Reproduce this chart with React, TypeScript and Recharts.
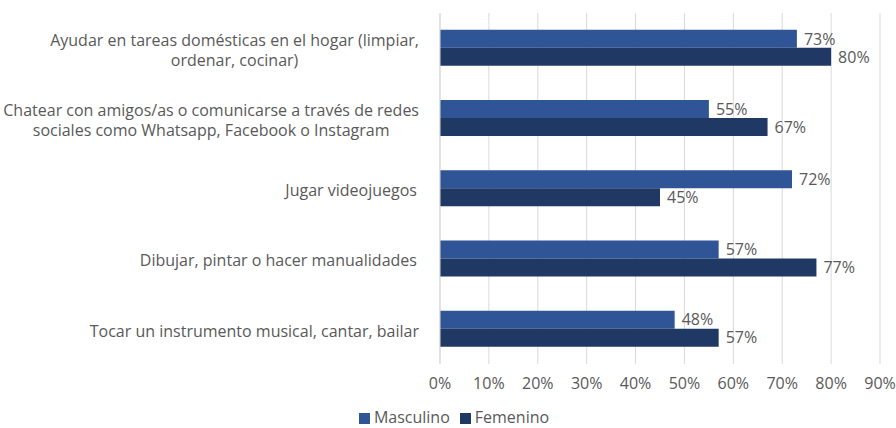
import { BarChart, Bar, XAxis, YAxis, CartesianGrid, Legend, LabelList } from "recharts";

const categories = [
  "Ayudar en tareas domésticas en el hogar (limpiar,|ordenar, cocinar)",
  "Chatear con amigos/as o comunicarse a través de redes|sociales como Whatsapp, Facebook o Instagram",
  "Jugar videojuegos ",
  "Dibujar, pintar o hacer manualidades ",
  "Tocar un instrumento musical, cantar, bailar",
];
const masculino = [0.73, 0.55, 0.72, 0.57, 0.48];
const femenino = [0.8, 0.67, 0.45, 0.77, 0.57];
const xTicks = [0, 0.1, 0.2, 0.3, 0.4, 0.5, 0.6, 0.7, 0.8, 0.9];
const seriesOrder = ["masculino", "femenino"];

const data = categories.map((c, i) => ({ name: c, masculino: masculino[i], femenino: femenino[i] }));

const FONT = "Open Sans, Liberation Sans, sans-serif";
const GRAY = "#595959";
const FS = 16;
const pct = (v: number) => `${Math.round(v * 100)}%`;

let ctx: CanvasRenderingContext2D | null = null;
function measure(s: string) {
  if (!ctx) ctx = document.createElement("canvas").getContext("2d");
  if (!ctx) return s.length * 8;
  ctx.font = `${FS}px ${FONT}`;
  return ctx.measureText(s).width;
}

function CategoryTick(props: any) {
  const { x, y, payload } = props;
  const lines: string[] = String(payload.value).split("|");
  const w = Math.max(...lines.map(measure));
  const right = x - 13;
  const cx = right - w / 2;
  const lh = 20;
  const y0 = y + 2 - ((lines.length - 1) * lh) / 2;
  return (
    <text fill={GRAY} fontSize={FS} fontFamily={FONT} textAnchor="middle">
      {lines.map((l, i) => (
        <tspan key={i} x={cx} y={y0 + i * lh} dy="0.35em">
          {l}
        </tspan>
      ))}
    </text>
  );
}

export default function App() {
  return (
    <div style={{ position: "absolute", left: 0, top: 0, background: "#fff" }}>
      <BarChart
        width={896}
        height={428}
        data={data}
        layout="vertical"
        margin={{ top: 13, right: 16, bottom: 0, left: 0 }}
        barCategoryGap="24%"
        barGap={0}
      >
        <CartesianGrid horizontal={false} stroke="#d9d9d9" />
        <XAxis
          type="number"
          domain={[0, 0.9]}
          ticks={xTicks}
          tickFormatter={pct}
          axisLine={false}
          tickLine={false}
          tickMargin={8}
          height={42}
          tick={{ fill: GRAY, fontSize: FS, fontFamily: FONT }}
        />
        <YAxis
          type="category"
          dataKey="name"
          width={440}
          axisLine={{ stroke: "#d9d9d9" }}
          tickLine={false}
          tick={<CategoryTick />}
        />
        <Legend
          verticalAlign="bottom"
          iconType="square"
          iconSize={11}
          itemSorter={(item: any) => seriesOrder.indexOf(item.dataKey)}
          wrapperStyle={{ fontFamily: FONT, fontSize: FS, color: GRAY, paddingLeft: 19 }}
          formatter={(v: string) => <span style={{ color: GRAY }}>{v}</span>}
        />
        <Bar dataKey="masculino" name="Masculino" fill="#2F5597" isAnimationActive={false}>
          <LabelList dataKey="masculino" position="right" offset={7} formatter={pct} fill={GRAY} fontSize={FS} fontFamily={FONT} />
        </Bar>
        <Bar dataKey="femenino" name="Femenino" fill="#203864" isAnimationActive={false}>
          <LabelList dataKey="femenino" position="right" offset={7} formatter={pct} fill={GRAY} fontSize={FS} fontFamily={FONT} />
        </Bar>
      </BarChart>
    </div>
  );
}
